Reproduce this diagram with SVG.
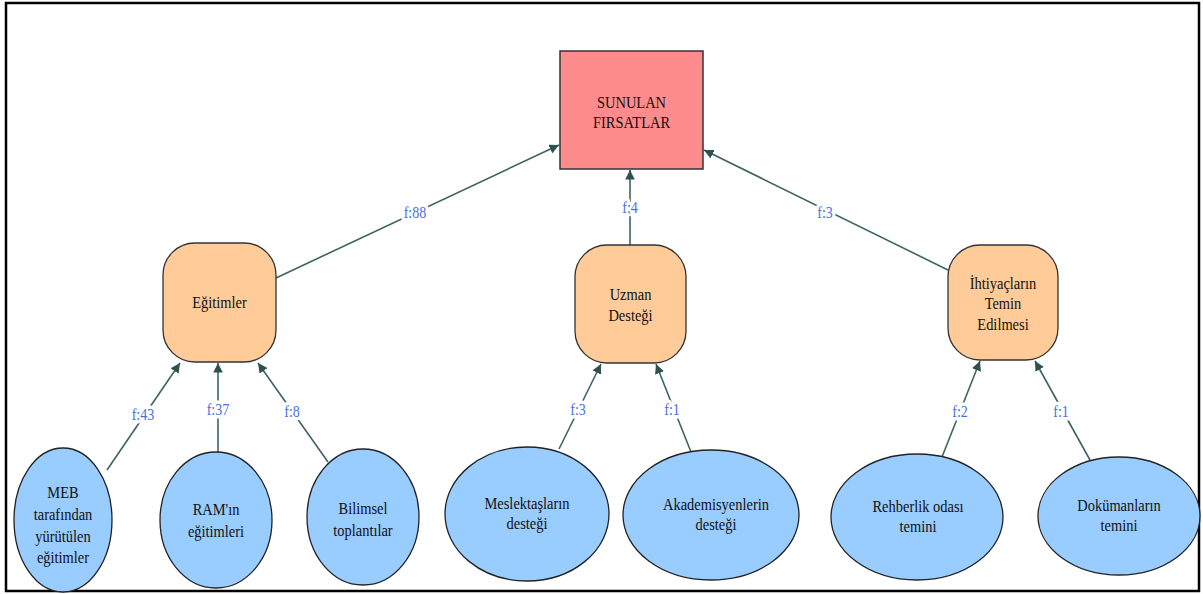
<svg xmlns="http://www.w3.org/2000/svg" width="1203" height="594" viewBox="0 0 1203 594" font-family="'Liberation Serif', 'DejaVu Serif', serif">
  <style>
    .frame { fill: #ffffff; stroke: #000000; stroke-width: 2.5; }
    .root { fill: #FF8C8C; stroke: #333333; stroke-width: 1.5; }
    .cat { fill: #FFCC99; stroke: #333333; stroke-width: 1.3; }
    .leaf { fill: #99CCFF; stroke: #222222; stroke-width: 1.3; }
    text { font-family: 'Liberation Serif', 'DejaVu Serif', serif; text-anchor: middle; }
    .t { font-size: 17px; fill: #111111; }
    .edge { stroke: #3E6461; stroke-width: 1.6; fill: none; marker-end: url(#arrow); }
    .lbl { font-size: 16.5px; fill: #4A6FE0; stroke: #ffffff; stroke-width: 7; paint-order: stroke; stroke-linejoin: round; }
  </style>
  <defs>
    <marker id="arrow" viewBox="0 0 10 10" refX="10" refY="5" markerWidth="6" markerHeight="6" markerUnits="strokeWidth" orient="auto">
      <path d="M0,0 L10,5 L0,10 z" fill="#2F524F"/>
    </marker>
  </defs>

  <rect class="frame" x="6" y="3" width="1193" height="588"/>

  <!-- connectors; text is set in a narrow face by scaling x -->
  <g id="connectors">
    <line class="edge" x1="276" y1="278" x2="559" y2="145"/>
    <line class="edge" x1="630" y1="245" x2="630" y2="170"/>
    <line class="edge" x1="948" y1="270" x2="704" y2="150"/>
    <line class="edge" x1="107" y1="470" x2="180" y2="363"/>
    <line class="edge" x1="218" y1="452" x2="218" y2="363"/>
    <line class="edge" x1="328" y1="462" x2="258" y2="363"/>
    <line class="edge" x1="559" y1="449" x2="601" y2="364"/>
    <line class="edge" x1="691" y1="452" x2="656" y2="364"/>
    <line class="edge" x1="942" y1="457" x2="980" y2="361"/>
    <line class="edge" x1="1090" y1="460" x2="1035" y2="361"/>

    <g transform="translate(415,0) scale(0.85,1)"><text class="lbl" x="0" y="218">f:88</text></g>
    <g transform="translate(630,0) scale(0.85,1)"><text class="lbl" x="0" y="213">f:4</text></g>
    <g transform="translate(825,0) scale(0.85,1)"><text class="lbl" x="0" y="218">f:3</text></g>
    <g transform="translate(143,0) scale(0.85,1)"><text class="lbl" x="0" y="420">f:43</text></g>
    <g transform="translate(218,0) scale(0.85,1)"><text class="lbl" x="0" y="415">f:37</text></g>
    <g transform="translate(292,0) scale(0.85,1)"><text class="lbl" x="0" y="417">f:8</text></g>
    <g transform="translate(578,0) scale(0.85,1)"><text class="lbl" x="0" y="415">f:3</text></g>
    <g transform="translate(672,0) scale(0.85,1)"><text class="lbl" x="0" y="415">f:1</text></g>
    <g transform="translate(960,0) scale(0.85,1)"><text class="lbl" x="0" y="417">f:2</text></g>
    <g transform="translate(1061,0) scale(0.85,1)"><text class="lbl" x="0" y="417">f:1</text></g>
  </g>

  <!-- top node -->
  <g id="sunulan-firsatlar">
    <rect class="root" x="560" y="51" width="143" height="118"/>
    <g transform="translate(631.5,0) scale(0.85,1)">
      <text class="t" x="0" y="108">SUNULAN</text>
      <text class="t" x="0" y="128">FIRSATLAR</text>
    </g>
  </g>

  <!-- category nodes -->
  <g id="egitimler">
    <rect class="cat" x="163" y="243" width="113" height="119" rx="32" ry="32"/>
    <g transform="translate(219.5,0) scale(0.85,1)">
      <text class="t" x="0" y="308">Eğitimler</text>
    </g>
  </g>
  <g id="uzman-destegi">
    <rect class="cat" x="575" y="245" width="111" height="118" rx="32" ry="32"/>
    <g transform="translate(630.5,0) scale(0.85,1)">
      <text class="t" x="0" y="300">Uzman</text>
      <text class="t" x="0" y="321">Desteği</text>
    </g>
  </g>
  <g id="ihtiyaclarin-temin-edilmesi">
    <rect class="cat" x="948" y="245" width="110" height="115" rx="32" ry="32"/>
    <g transform="translate(1003,0) scale(0.85,1)">
      <text class="t" x="0" y="289">İhtiyaçların</text>
      <text class="t" x="0" y="309">Temin</text>
      <text class="t" x="0" y="330">Edilmesi</text>
    </g>
  </g>

  <!-- leaf nodes -->
  <g id="meb-egitimleri">
    <ellipse class="leaf" cx="63" cy="520" rx="49" ry="72"/>
    <g transform="translate(63,0) scale(0.85,1)">
      <text class="t" x="0" y="498">MEB</text>
      <text class="t" x="0" y="520">tarafından</text>
      <text class="t" x="0" y="542">yürütülen</text>
      <text class="t" x="0" y="563">eğitimler</text>
    </g>
  </g>
  <g id="ram-egitimleri">
    <ellipse class="leaf" cx="216" cy="520" rx="56" ry="68"/>
    <g transform="translate(216,0) scale(0.85,1)">
      <text class="t" x="0" y="515">RAM'ın</text>
      <text class="t" x="0" y="537">eğitimleri</text>
    </g>
  </g>
  <g id="bilimsel-toplantilar">
    <ellipse class="leaf" cx="363" cy="517" rx="56" ry="68"/>
    <g transform="translate(363,0) scale(0.85,1)">
      <text class="t" x="0" y="514">Bilimsel</text>
      <text class="t" x="0" y="536">toplantılar</text>
    </g>
  </g>
  <g id="meslektaslarin-destegi">
    <ellipse class="leaf" cx="527" cy="514" rx="82" ry="67"/>
    <g transform="translate(527,0) scale(0.85,1)">
      <text class="t" x="0" y="509">Meslektaşların</text>
      <text class="t" x="0" y="529">desteği</text>
    </g>
  </g>
  <g id="akademisyenlerin-destegi">
    <ellipse class="leaf" cx="711" cy="515" rx="88" ry="65"/>
    <g transform="translate(716,0) scale(0.85,1)">
      <text class="t" x="0" y="510">Akademisyenlerin</text>
      <text class="t" x="0" y="530">desteği</text>
    </g>
  </g>
  <g id="rehberlik-odasi-temini">
    <ellipse class="leaf" cx="917" cy="517" rx="86" ry="63"/>
    <g transform="translate(918,0) scale(0.85,1)">
      <text class="t" x="0" y="512">Rehberlik odası</text>
      <text class="t" x="0" y="532">temini</text>
    </g>
  </g>
  <g id="dokumanlarin-temini">
    <ellipse class="leaf" cx="1119" cy="516" rx="81" ry="59"/>
    <g transform="translate(1119,0) scale(0.85,1)">
      <text class="t" x="0" y="511">Dokümanların</text>
      <text class="t" x="0" y="531">temini</text>
    </g>
  </g>
</svg>
